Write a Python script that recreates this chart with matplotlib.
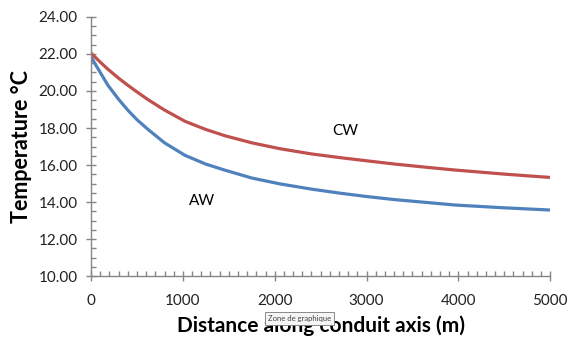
import matplotlib
matplotlib.use('Agg')
import matplotlib.pyplot as plt
from matplotlib.ticker import MultipleLocator, FormatStrFormatter

# distance along conduit axis (m) and temperatures
distance = [0, 40, 100, 185, 300, 403, 500, 621, 800, 1024, 1250, 1460, 1750,
            2059, 2400, 2712, 3000, 3312, 3650, 3965, 4500, 5000]
temp_cw = [22.05, 21.85, 21.56, 21.17, 20.69, 20.30, 19.95, 19.53, 18.97, 18.36, 17.92, 17.58, 17.20,
           16.88, 16.60, 16.40, 16.23, 16.05, 15.88, 15.73, 15.51, 15.33]
temp_aw = [21.85, 21.50, 21.00, 20.30, 19.55, 18.95, 18.45, 17.92, 17.20, 16.52, 16.05, 15.72, 15.30,
           14.98, 14.70, 14.48, 14.30, 14.13, 13.98, 13.84, 13.69, 13.57]

plt.rcParams['font.family'] = ['Lato', 'DejaVu Sans']

fig = plt.figure(figsize=(5.69, 3.38), dpi=100)
ax = fig.add_axes([0.16, 0.183, 0.807, 0.767])

ax.plot(distance, temp_cw, color='#C0504D', lw=2.3, solid_capstyle='round', solid_joinstyle='round')
ax.plot(distance, temp_aw, color='#4F81BD', lw=2.3, solid_capstyle='round', solid_joinstyle='round')

ax.text(2770, 17.85, 'CW', fontsize=11, ha='center', va='center')
ax.text(1210, 14.07, 'AW', fontsize=11, ha='center', va='center')

ax.set_xlim(0, 5000)
ax.set_ylim(10, 24)
ax.xaxis.set_major_locator(MultipleLocator(1000))
ax.xaxis.set_minor_locator(MultipleLocator(100))
ax.yaxis.set_major_locator(MultipleLocator(2))
ax.yaxis.set_minor_locator(MultipleLocator(0.5))
ax.yaxis.set_major_formatter(FormatStrFormatter('%.2f'))

for s in ['top', 'right']:
    ax.spines[s].set_visible(False)
for s in ['left', 'bottom']:
    ax.spines[s].set_color('#868686')
    ax.spines[s].set_linewidth(1.0)

ax.tick_params(which='major', direction='inout', length=7, width=1, color='#868686',
               labelsize=11, labelcolor='#222222')
ax.tick_params(axis='x', which='major', pad=9)
ax.tick_params(axis='y', which='major', pad=6)
ax.tick_params(which='minor', direction='in', length=3.5, width=1, color='#868686')

ax.set_xlabel('Distance along conduit axis (m)', fontsize=15, fontweight='bold', labelpad=6)
ax.set_ylabel('Temperature °C', fontsize=15.5, fontweight='bold', labelpad=5)

# screenshot tooltip sitting over the axis title
fig.text(0.4705, 0.0577, 'Zone de graphique', fontsize=5.5, color='#444444', ha='left', va='center',
         zorder=10, bbox=dict(boxstyle='square,pad=0.35', fc='#F5F5F5', ec='#777777', lw=0.6))

fig.savefig('out.png', dpi=100)
